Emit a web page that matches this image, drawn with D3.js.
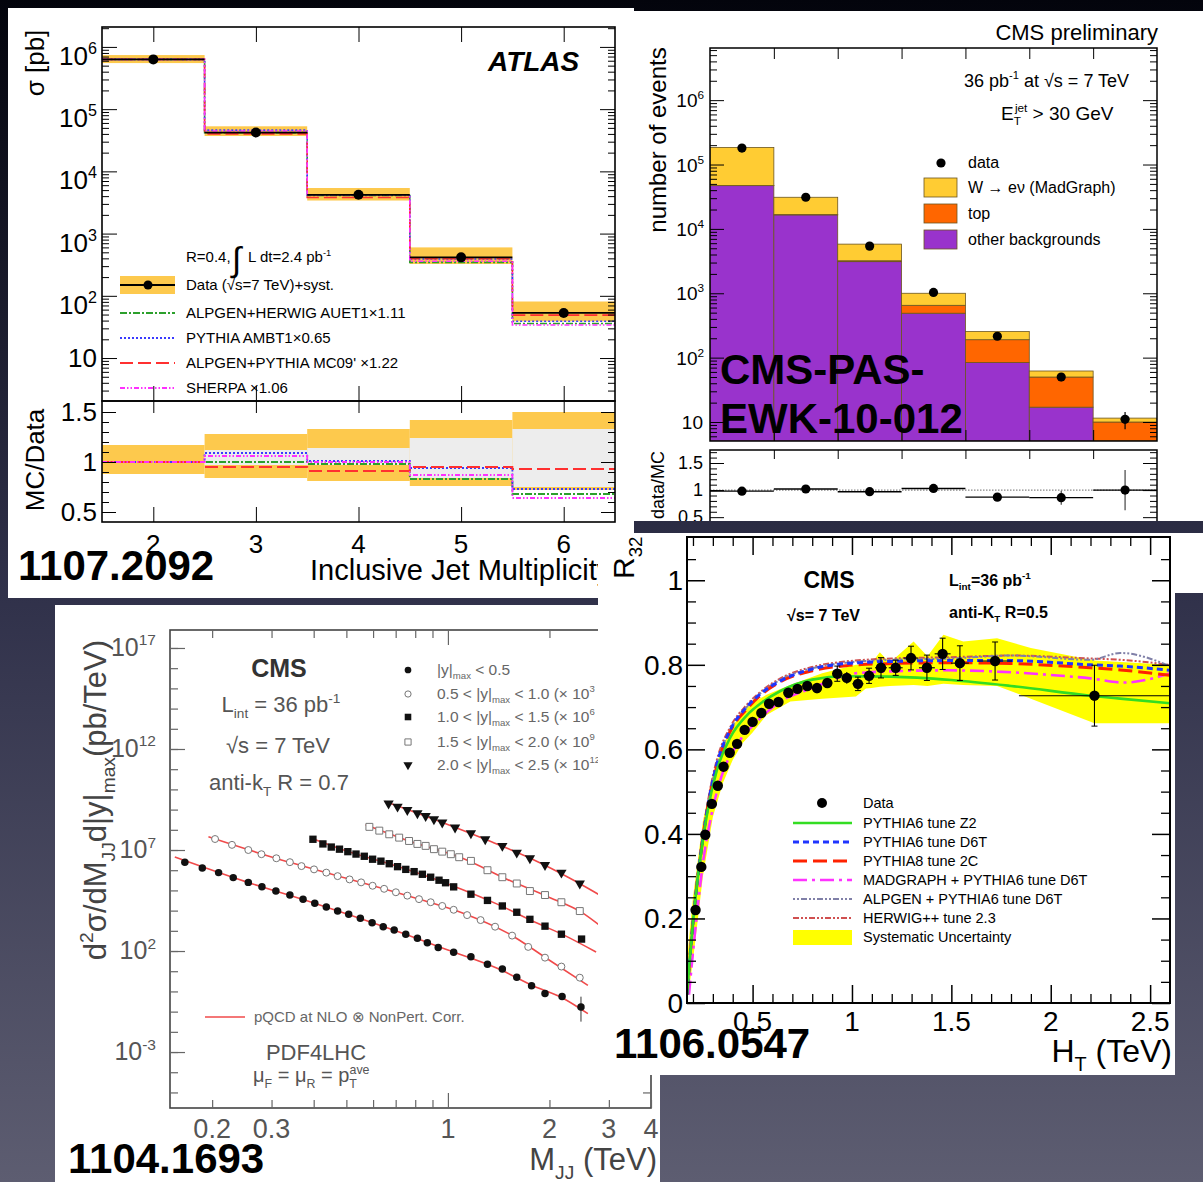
<!DOCTYPE html>
<html lang="en">
<head>
<meta charset="utf-8">
<title>Jet measurements collage</title>
<script src="https://cdn.jsdelivr.net/npm/d3@7"></script>
<style>
  html, body { margin: 0; padding: 0; background: #202133; }
  svg { display: block; font-family: "Liberation Sans", Arial, Helvetica, sans-serif; }
</style>
</head>
<body>
<script>
// ---------------- data ----------------

// ATLAS, inclusive jet multiplicity (sigma in pb)
const atlasN = [2, 3, 4, 5, 6];
const atlasData = [6.3e5, 4.2e4, 4.2e3, 415, 53];
const atlasSystLo = [5.5e5, 3.7e4, 3.4e3, 325, 39];
const atlasSystHi = [7.4e5, 5.3e4, 5.4e3, 600, 81];
const atlasHerwig = [6.3e5, 4.2e4, 4.1e3, 345, 36];
const atlasPythia = [6.3e5, 4.6e4, 4.2e3, 390, 39];
const atlasMC09 = [6.3e5, 4.0e4, 3.8e3, 395, 49];
const atlasSherpa = [6.3e5, 4.45e4, 4.2e3, 360, 34];
const ratioHerwig = [1.0, 1.0, 0.98, 0.83, 0.68];
const ratioPythia = [1.0, 1.09, 1.01, 0.94, 0.73];
const ratioMC09 = [1.0, 0.95, 0.91, 0.95, 0.93];
const ratioSherpa = [1.0, 1.06, 1.0, 0.87, 0.64];
const ratioYellowLo = [0.88, 0.84, 0.81, 0.76, 0.72];
const ratioYellowHi = [1.17, 1.28, 1.33, 1.42, 1.50];
const ratioGreyLo = [1.0, 0.97, 0.97, 0.84, 0.75];
const ratioGreyHi = [1.0, 1.12, 1.14, 1.24, 1.33];

// CMS W -> e nu + jets, number of events per jet bin
const wJets = [0, 1, 2, 3, 4, 5, 6];
const wOther = [4.7e4, 1.65e4, 3.1e3, 490, 84, 17, 4];
const wTop = [200, 200, 100, 160, 106, 33, 6];
const wSignal = [1.37e5, 1.43e4, 2.6e3, 350, 64, 12, 1.5];
const wData = [1.8e5, 3.1e4, 5.4e3, 1030, 215, 50, 11];
const wDataErr = [420, 180, 75, 32, 15, 7, 3.3];
const wRatio = [0.98, 1.02, 0.97, 1.03, 0.87, 0.86, 1.0];
const wRatioErr = [0.01, 0.01, 0.015, 0.03, 0.06, 0.13, 0.37];

// CMS dijet mass spectra [M_JJ (TeV), d2sigma (pb/TeV)]
const dijet1 = [[0.166,2.5e6],[0.187,1.3e6],[0.209,7.6e5],[0.231,4.3e5],[0.256,2.5e5],[0.281,1.5e5],[0.309,9.3e4],[0.340,5.9e4],[0.372,3.7e4],[0.403,2.3e4],[0.436,1.5e4],[0.471,9.5e3],[0.508,6.6e3],[0.550,4.2e3],[0.596,2.5e3],[0.643,1.6e3],[0.693,1.1e3],[0.750,680],[0.812,430],[0.869,260],[0.936,150],[1.04,87],[1.17,52],[1.31,22],[1.45,13],[1.60,5.0],[1.77,1.9],[1.94,0.79],[2.18,0.56],[2.48,0.17]];
const dijet2 = [[0.204,3.5e7],[0.229,1.8e7],[0.256,1.0e7],[0.280,6.2e6],[0.310,3.9e6],[0.340,2.5e6],[0.368,1.6e6],[0.401,1.1e6],[0.436,7.6e5],[0.471,5.1e5],[0.511,3.5e5],[0.553,2.5e5],[0.598,1.7e5],[0.647,1.2e5],[0.701,8.1e4],[0.758,5.5e4],[0.821,3.7e4],[0.889,2.6e4],[0.962,1.7e4],[1.04,1.1e4],[1.14,6.0e3],[1.25,3.4e3],[1.38,1.6e3],[1.55,580],[1.73,160],[1.94,47],[2.17,17],[2.46,4.8]];
const dijet3 = [[0.398,3.4e7],[0.426,2.0e7],[0.451,1.4e7],[0.477,1.1e7],[0.505,8.3e6],[0.534,6.3e6],[0.565,4.9e6],[0.598,3.5e6],[0.633,2.8e6],[0.670,2.1e6],[0.709,1.5e6],[0.750,1.1e6],[0.794,8.5e5],[0.840,6.3e5],[0.889,4.5e5],[0.941,3.2e5],[0.984,2.4e5],[1.04,1.5e5],[1.17,6.5e4],[1.31,3.2e4],[1.45,1.7e4],[1.60,8.3e3],[1.75,3.7e3],[1.94,1.7e3],[2.17,680],[2.49,390]];
const dijet4 = [[0.585,1.4e8],[0.626,9.1e7],[0.670,6.0e7],[0.717,4.1e7],[0.767,2.8e7],[0.812,2.0e7],[0.859,1.6e7],[0.909,1.1e7],[0.962,8.3e6],[1.02,6.2e6],[1.08,4.4e6],[1.17,2.9e6],[1.31,1.0e6],[1.45,4.5e5],[1.60,2.2e5],[1.75,9.3e4],[1.94,5.9e4],[2.17,2.6e4],[2.46,9.5e3]];
const dijet5 = [[0.667,2.0e9],[0.709,1.4e9],[0.758,9.5e8],[0.812,6.6e8],[0.859,4.8e8],[0.909,3.3e8],[0.962,2.3e8],[1.05,1.3e8],[1.17,6.8e7],[1.29,3.4e7],[1.45,1.6e7],[1.60,7.4e6],[1.75,3.9e6],[1.94,1.8e6],[2.17,7.6e5],[2.46,2.2e5]];
const nlo1 = [[0.155,4.5e6],[0.25,2.8e5],[0.4,2.4e4],[0.7,1.0e3],[1.0,112],[1.4,14],[1.8,1.8],[2.2,0.45],[2.6,0.079]];
const nlo2 = [[0.195,4.5e7],[0.3,4.5e6],[0.5,4.0e5],[0.8,4.2e4],[1.1,7.9e3],[1.5,790],[2.0,35],[2.6,2.0]];
const nlo3 = [[0.39,4.0e7],[0.5,8.9e6],[0.7,1.66e6],[1.0,2.1e5],[1.4,2.1e4],[1.8,2.8e3],[2.2,630],[2.75,89]];
const nlo4 = [[0.57,1.8e8],[0.8,2.2e7],[1.1,4.0e6],[1.5,3.5e5],[2.0,4.5e4],[2.5,7.9e3],[2.8,2.0e3]];
const nlo5 = [[0.65,2.5e9],[0.9,3.5e8],[1.3,3.2e7],[1.8,3.2e6],[2.3,4.0e5],[2.8,6.3e4]];
const dijetLastErr = [0.032, 0.55];

// CMS R32 versus H_T
const r32HT = [0.213,0.242,0.262,0.295,0.325,0.354,0.385,0.422,0.46,0.5,0.544,0.583,0.63,0.68,0.726,0.775,0.824,0.876,0.926,0.974,1.03,1.086,1.146,1.22,1.297,1.377,1.456,1.543,1.72,2.22];
const r32Val = [0.22,0.322,0.398,0.471,0.514,0.559,0.592,0.613,0.646,0.665,0.686,0.708,0.712,0.734,0.743,0.75,0.745,0.757,0.779,0.769,0.755,0.774,0.793,0.793,0.816,0.793,0.826,0.804,0.809,0.727];
const r32ErrY = [0.005,0.005,0.005,0.005,0.005,0.005,0.005,0.006,0.006,0.007,0.008,0.008,0.009,0.01,0.01,0.011,0.012,0.012,0.018,0.014,0.016,0.018,0.024,0.018,0.028,0.03,0.037,0.041,0.045,0.072];
const r32ErrX = [0.012,0.012,0.012,0.014,0.014,0.015,0.016,0.018,0.019,0.02,0.021,0.022,0.023,0.024,0.024,0.024,0.025,0.025,0.025,0.025,0.028,0.028,0.03,0.035,0.037,0.04,0.04,0.045,0.085,0.38];
const sysHT = [0.17,0.20,0.25,0.30,0.35,0.40,0.45,0.50,0.57,0.69,0.85,1.02,1.07,1.10,1.14,1.19,1.31,1.38,1.46,1.56,1.73,1.90,2.22,2.60];
const sysLo = [0.0,0.10,0.30,0.44,0.52,0.575,0.615,0.64,0.681,0.713,0.72,0.725,0.744,0.745,0.748,0.75,0.752,0.75,0.755,0.752,0.75,0.72,0.662,0.662];
const sysHi = [0.10,0.25,0.43,0.54,0.61,0.655,0.69,0.71,0.729,0.752,0.78,0.80,0.80,0.805,0.83,0.805,0.855,0.82,0.871,0.855,0.863,0.84,0.81,0.80];
const mcHT = [0.17,0.18,0.20,0.22,0.25,0.28,0.32,0.39,0.47,0.55,0.64,0.80,0.97,1.20,1.50,1.80,2.20,2.35,2.60];
const mcHerwig = [0.03,0.09,0.20,0.29,0.40,0.49,0.575,0.655,0.705,0.74,0.768,0.795,0.808,0.815,0.818,0.822,0.815,0.812,0.80];
const mcAlpgen = [0.02,0.08,0.19,0.28,0.39,0.48,0.565,0.648,0.70,0.737,0.765,0.792,0.805,0.812,0.815,0.822,0.812,0.828,0.797];
const mcD6T = [0.02,0.08,0.19,0.28,0.39,0.48,0.565,0.648,0.70,0.735,0.762,0.79,0.803,0.808,0.81,0.81,0.80,0.797,0.787];
const mcP8 = [0.02,0.08,0.19,0.28,0.39,0.48,0.56,0.645,0.695,0.732,0.76,0.786,0.798,0.803,0.805,0.803,0.793,0.788,0.775];
const mcZ2 = [0.02,0.08,0.19,0.28,0.385,0.47,0.55,0.63,0.68,0.712,0.738,0.765,0.773,0.772,0.764,0.75,0.727,0.72,0.709];
const mgHT = [0.18,0.20,0.22,0.25,0.30,0.35,0.42,0.52,0.64,0.80,1.02,1.22,1.47,1.73,2.00,2.20,2.37,2.60];
const mcMadgraph = [0.02,0.12,0.21,0.33,0.46,0.545,0.61,0.665,0.713,0.745,0.78,0.785,0.787,0.784,0.776,0.768,0.758,0.78];

// ---------------- page ----------------
const W = 1203, H = 1182;
const svg = d3.select("body").append("svg").attr("width", W).attr("height", H);
const defs = svg.append("defs");
const grad = defs.append("linearGradient").attr("id", "bg").attr("x1", 0).attr("y1", 0).attr("x2", 0).attr("y2", 1);
grad.append("stop").attr("offset", "0%").attr("stop-color", "#03040c");
grad.append("stop").attr("offset", "50%").attr("stop-color", "#30314a");
grad.append("stop").attr("offset", "100%").attr("stop-color", "#5d5d71");
svg.append("rect").attr("width", W).attr("height", H).attr("fill", "url(#bg)");

function addClip(id, x0, y0, x1, y1) {
  defs.append("clipPath").attr("id", id).append("rect")
    .attr("x", x0).attr("y", y0).attr("width", x1 - x0).attr("height", y1 - y0);
}
function panel(id, x0, y0, x1, y1) {
  addClip(id, x0, y0, x1, y1);
  const g = svg.append("g").attr("clip-path", `url(#${id})`);
  g.append("rect").attr("x", x0).attr("y", y0).attr("width", x1 - x0).attr("height", y1 - y0).attr("fill", "#fff");
  return g;
}
// inward pointing ticks drawn with d3 axes
function ticks(g, scale, side, pos, values, size, color, width) {
  const axis = side === "bottom" ? d3.axisTop(scale) : side === "top" ? d3.axisBottom(scale)
             : side === "left" ? d3.axisRight(scale) : d3.axisLeft(scale);
  axis.tickValues(values).tickSize(size).tickSizeOuter(0).tickFormat("");
  const horiz = side === "bottom" || side === "top";
  const a = g.append("g").attr("transform", horiz ? `translate(0,${pos})` : `translate(${pos},0)`).call(axis);
  a.select(".domain").remove();
  a.selectAll("text").remove();
  a.selectAll("line").attr("stroke", color || "#000").attr("stroke-width", width || 1);
}
function decades(lo, hi) {
  const out = [];
  for (let e = Math.ceil(Math.log10(lo) - 1e-9); Math.pow(10, e) <= hi * 1.0001; e++) out.push(Math.pow(10, e));
  return out;
}
function minors(lo, hi) {
  const out = [];
  for (let e = Math.floor(Math.log10(lo)); Math.pow(10, e) <= hi; e++)
    for (let m = 2; m < 10; m++) { const v = m * Math.pow(10, e); if (v >= lo && v <= hi) out.push(v); }
  return out;
}
// text with sub / superscripts
function rich(g, x, y, parts, fs, opts = {}) {
  const t = g.append("text").attr("x", x).attr("y", y).attr("font-size", fs)
    .attr("text-anchor", opts.anchor || "start").attr("fill", opts.fill || "#000");
  if (opts.weight) t.attr("font-weight", opts.weight);
  if (opts.italic) t.attr("font-style", "italic");
  if (opts.transform) t.attr("transform", opts.transform);
  let shift = 0;
  parts.forEach(p => {
    const [s, kind, dx] = Array.isArray(p) ? p : [p, "n", 0];
    const target = kind === "sup" ? -fs * 0.42 : kind === "sub" ? fs * 0.28 : 0;
    const sp = t.append("tspan").attr("dy", target - shift).text(s);
    if (kind === "sup" || kind === "sub") sp.attr("font-size", fs * 0.62);
    if (dx) sp.attr("dx", dx);
    shift = target;
  });
  return t;
}

// ================= panel 1 : ATLAS =================
const p1 = panel("clip1", 8, 8, 634, 598);
const x1 = d3.scaleLinear().domain([1.5, 6.5]).range([102, 615]);
const y1 = d3.scaleLog().domain([2.04, 2.09e6]).range([401, 27]);
const r1 = d3.scaleLinear().domain([0.40, 1.61]).range([522, 401]);
const YEL1 = "#fdc94d";
const atlasMC = [
  { name: "ALPGEN+HERWIG AUET1\u00d71.11", main: atlasHerwig, ratio: ratioHerwig, color: "#2ca02c", dash: "7,2,2,2" },
  { name: "PYTHIA AMBT1\u00d70.65", main: atlasPythia, ratio: ratioPythia, color: "#3a3aff", dash: "2,2" },
  { name: "ALPGEN+PYTHIA MC09' \u00d71.22", main: atlasMC09, ratio: ratioMC09, color: "#ff3030", dash: "13,5" },
  { name: "SHERPA \u00d71.06", main: atlasSherpa, ratio: ratioSherpa, color: "#ff30ff", dash: "5,2,1.5,2,1.5,2" }
];
const stepPts = vals => atlasN.map((n, i) => [n - 0.5, vals[i]]).concat([[6.5, vals[vals.length - 1]]]);
const step = (sy) => d3.line().x(d => x1(d[0])).y(d => sy(d[1])).curve(d3.curveStepAfter);

p1.selectAll("rect.syst").data(atlasN).join("rect").attr("class", "syst")
  .attr("x", n => x1(n - 0.5)).attr("width", x1(1) - x1(0))
  .attr("y", (n, i) => y1(atlasSystHi[i])).attr("height", (n, i) => y1(atlasSystLo[i]) - y1(atlasSystHi[i]))
  .attr("fill", YEL1);
atlasMC.forEach(m => p1.append("path").attr("d", step(y1)(stepPts(m.main))).attr("fill", "none")
  .attr("stroke", m.color).attr("stroke-width", 1.6).attr("stroke-dasharray", m.dash));
p1.selectAll("line.dat").data(atlasN).join("line").attr("class", "dat")
  .attr("x1", n => x1(n - 0.5)).attr("x2", n => x1(n + 0.5))
  .attr("y1", (n, i) => y1(atlasData[i])).attr("y2", (n, i) => y1(atlasData[i]))
  .attr("stroke", "#000").attr("stroke-width", 1.8);
p1.selectAll("circle.dat").data(atlasN).join("circle").attr("class", "dat")
  .attr("cx", n => x1(n)).attr("cy", (n, i) => y1(atlasData[i])).attr("r", 5).attr("fill", "#000");

// ratio
p1.selectAll("rect.ry").data(atlasN).join("rect").attr("class", "ry")
  .attr("x", n => x1(n - 0.5)).attr("width", x1(1) - x1(0))
  .attr("y", (n, i) => r1(ratioYellowHi[i])).attr("height", (n, i) => r1(ratioYellowLo[i]) - r1(ratioYellowHi[i]))
  .attr("fill", YEL1);
p1.selectAll("rect.rg").data(atlasN).join("rect").attr("class", "rg")
  .attr("x", n => x1(n - 0.5)).attr("width", x1(1) - x1(0))
  .attr("y", (n, i) => r1(ratioGreyHi[i])).attr("height", (n, i) => r1(ratioGreyLo[i]) - r1(ratioGreyHi[i]))
  .attr("fill", "#ededed");
atlasMC.forEach(m => p1.append("path").attr("d", step(r1)(stepPts(m.ratio))).attr("fill", "none")
  .attr("stroke", m.color).attr("stroke-width", 1.8).attr("stroke-dasharray", m.dash));

// frames and ticks
p1.append("rect").attr("x", 102).attr("y", 27).attr("width", 513).attr("height", 374).attr("fill", "none").attr("stroke", "#000").attr("stroke-width", 1.6);
p1.append("rect").attr("x", 102).attr("y", 401).attr("width", 513).attr("height", 121).attr("fill", "none").attr("stroke", "#000").attr("stroke-width", 1.6);
ticks(p1, x1, "top", 27, atlasN, 15);
ticks(p1, x1, "bottom", 401, atlasN, 15);
ticks(p1, x1, "top", 401, atlasN, 12);
ticks(p1, x1, "bottom", 522, atlasN, 15);
["left", "right"].forEach(s => {
  const pos = s === "left" ? 102 : 615;
  ticks(p1, y1, s, pos, decades(2.04, 2.09e6), 15);
  ticks(p1, y1, s, pos, minors(2.04, 2.09e6), 7);
  ticks(p1, r1, s, pos, [0.5, 1, 1.5], 14);
  ticks(p1, r1, s, pos, d3.range(0.6, 1.45, 0.1), 7);
});
// labels
[2, 3, 4, 5, 6].forEach(e => rich(p1, 97, y1(Math.pow(10, e)) + 18, ["10", [String(e), "sup"]], 26, { anchor: "end" }));
p1.append("text").attr("x", 97).attr("y", y1(10) + 9).attr("text-anchor", "end").attr("font-size", 26).text("10");
[[1.5, "1.5"], [1, "1"], [0.5, "0.5"]].forEach(([v, s]) =>
  p1.append("text").attr("x", 97).attr("y", r1(v) + 9).attr("text-anchor", "end").attr("font-size", 26).text(s));
atlasN.forEach(n => p1.append("text").attr("x", x1(n)).attr("y", 553).attr("text-anchor", "middle").attr("font-size", 26).text(n));
p1.append("text").attr("x", 310).attr("y", 580).attr("font-size", 29).text("Inclusive Jet Multiplicity");
p1.append("text").attr("transform", "translate(44,63) rotate(-90)").attr("text-anchor", "middle").attr("font-size", 26).text("\u03c3 [pb]");
p1.append("text").attr("transform", "translate(44,460) rotate(-90)").attr("text-anchor", "middle").attr("font-size", 26).text("MC/Data");
p1.append("text").attr("x", 488).attr("y", 71).attr("font-size", 28).attr("font-weight", "bold").attr("font-style", "italic").text("ATLAS");
// legend
const lg1 = p1.append("g").attr("font-size", 15);
lg1.append("text").attr("x", 186).attr("y", 262).text("R=0.4,");
lg1.append("text").attr("x", 232).attr("y", 271).attr("font-size", 34).text("\u222b");
rich(lg1, 248, 262, ["L dt=2.4 pb", ["-1", "sup"]], 15);
lg1.append("rect").attr("x", 120).attr("y", 276).attr("width", 55).attr("height", 18).attr("fill", YEL1);
lg1.append("line").attr("x1", 120).attr("x2", 175).attr("y1", 285).attr("y2", 285).attr("stroke", "#000").attr("stroke-width", 1.8);
lg1.append("circle").attr("cx", 148).attr("cy", 285).attr("r", 4.5);
lg1.append("text").attr("x", 186).attr("y", 290).text("Data (\u221as=7 TeV)+syst.");
const legRows1 = [313, 338, 363, 388];
atlasMC.forEach((m, i) => {
  lg1.append("line").attr("x1", 120).attr("x2", 175).attr("y1", legRows1[i]).attr("y2", legRows1[i])
    .attr("stroke", m.color).attr("stroke-width", 1.8).attr("stroke-dasharray", m.dash);
  lg1.append("text").attr("x", 186).attr("y", legRows1[i] + 5).text(m.name);
});

// ================= panel 2 : CMS W + jets =================
const p2 = panel("clip2", 634, 11, 1203, 521);
const x2 = d3.scaleLinear().domain([0, 7]).range([710, 1157]);
const y2 = d3.scaleLog().domain([5.07, 6.46e6]).range([441, 48]).clamp(true);
const r2 = d3.scaleLinear().domain([0.3, 1.74]).range([528, 450]);
const wRows = wJets.map((j, i) => ({ jet: j, other: wOther[i], top: wTop[i], signal: wSignal[i] }));
const wStack = d3.stack().keys(["other", "top", "signal"])(wRows);
const wColors = { other: "#9933cc", top: "#ff6600", signal: "#ffcc33" };
addClip("frame2", 710, 48, 1157, 441);
const plot2 = p2.append("g").attr("clip-path", "url(#frame2)");
wStack.forEach(layer => {
  plot2.selectAll(null).data(layer).join("rect")
    .attr("x", d => x2(d.data.jet)).attr("width", x2(1) - x2(0))
    .attr("y", d => y2(d[1])).attr("height", d => y2(Math.max(d[0], 1)) - y2(d[1]))
    .attr("fill", wColors[layer.key]).attr("stroke", "#6b5520").attr("stroke-width", 0.8);
});
plot2.selectAll("line.err").data(wJets).join("line").attr("class", "err")
  .attr("x1", j => x2(j + 0.5)).attr("x2", j => x2(j + 0.5))
  .attr("y1", (j, i) => y2(wData[i] + wDataErr[i])).attr("y2", (j, i) => y2(wData[i] - wDataErr[i]))
  .attr("stroke", "#000").attr("stroke-width", 1.2);
plot2.selectAll("circle").data(wJets).join("circle")
  .attr("cx", j => x2(j + 0.5)).attr("cy", (j, i) => y2(wData[i])).attr("r", 4.6).attr("fill", "#000");
p2.append("rect").attr("x", 710).attr("y", 48).attr("width", 447).attr("height", 393).attr("fill", "none").attr("stroke", "#000").attr("stroke-width", 1.5);
const edges2 = [1, 2, 3, 4, 5, 6];
ticks(p2, x2, "top", 48, edges2, 11);
ticks(p2, x2, "bottom", 441, edges2, 11);
["left", "right"].forEach(s => {
  const pos = s === "left" ? 710 : 1157;
  ticks(p2, y2, s, pos, decades(5.07, 6.46e6), 14);
  ticks(p2, y2, s, pos, minors(5.07, 6.46e6), 7);
});
// ratio
p2.append("line").attr("x1", 710).attr("x2", 1157).attr("y1", r2(1)).attr("y2", r2(1))
  .attr("stroke", "#888").attr("stroke-width", 1.2).attr("stroke-dasharray", "1.5,1.5");
p2.selectAll("line.rbar").data(wJets).join("line").attr("class", "rbar")
  .attr("x1", j => x2(j)).attr("x2", j => x2(j + 1))
  .attr("y1", (j, i) => r2(wRatio[i])).attr("y2", (j, i) => r2(wRatio[i]))
  .attr("stroke", "#000").attr("stroke-width", 1.4);
p2.selectAll("line.rerr").data(wJets).join("line").attr("class", "rerr")
  .attr("x1", j => x2(j + 0.5)).attr("x2", j => x2(j + 0.5))
  .attr("y1", (j, i) => r2(wRatio[i] + wRatioErr[i])).attr("y2", (j, i) => r2(wRatio[i] - wRatioErr[i]))
  .attr("stroke", "#333").attr("stroke-width", 1.1);
p2.selectAll("circle.r").data(wJets).join("circle").attr("class", "r")
  .attr("cx", j => x2(j + 0.5)).attr("cy", (j, i) => r2(wRatio[i])).attr("r", 4.6).attr("fill", "#000");
p2.append("rect").attr("x", 710).attr("y", 450).attr("width", 447).attr("height", 78).attr("fill", "none").attr("stroke", "#000").attr("stroke-width", 1.5);
ticks(p2, x2, "top", 450, edges2, 9);
["left", "right"].forEach(s => {
  const pos = s === "left" ? 710 : 1157;
  ticks(p2, r2, s, pos, [0.5, 1, 1.5], 14);
  ticks(p2, r2, s, pos, d3.range(0.6, 1.75, 0.1), 7);
});
[3, 4, 5, 6].forEach(e => rich(p2, 704, y2(Math.pow(10, e)) + 7, ["10", [String(e), "sup"]], 19, { anchor: "end" }));
rich(p2, 704, y2(100) + 7, ["10", ["2", "sup"]], 19, { anchor: "end" });
p2.append("text").attr("x", 703).attr("y", y2(10) + 7).attr("text-anchor", "end").attr("font-size", 19).text("10");
[[1.5, "1.5"], [1, "1"], [0.5, "0.5"]].forEach(([v, s]) =>
  p2.append("text").attr("x", 703).attr("y", r2(v) + 6).attr("text-anchor", "end").attr("font-size", 18).text(s));
p2.append("text").attr("transform", "translate(666,140) rotate(-90)").attr("text-anchor", "middle").attr("font-size", 24).text("number of events");
p2.append("text").attr("transform", "translate(664,451) rotate(-90)").attr("text-anchor", "end").attr("font-size", 18).text("data/MC");
p2.append("text").attr("x", 1158).attr("y", 40).attr("text-anchor", "end").attr("font-size", 22).text("CMS preliminary");
rich(p2, 964, 87, ["36 pb", ["-1", "sup"], "  at \u221as = 7 TeV"], 18);
rich(p2, 1001, 120, ["E", ["T", "sub"], ["jet", "sup", -6], " > 30 GeV"], 19);
const lg2 = p2.append("g").attr("font-size", 16);
lg2.append("circle").attr("cx", 941).attr("cy", 163).attr("r", 4.6);
lg2.append("text").attr("x", 968).attr("y", 168).text("data");
[["signal", "W \u2192 e\u03bd (MadGraph)", 178], ["top", "top", 204], ["other", "other backgrounds", 230]].forEach(([k, s, y]) => {
  lg2.append("rect").attr("x", 924).attr("y", y).attr("width", 33).attr("height", 19)
    .attr("fill", wColors[k]).attr("stroke", "#6b5520").attr("stroke-width", 0.8);
  lg2.append("text").attr("x", 968).attr("y", y + 15).text(s);
});

// ================= panel 3 : CMS dijet mass =================
const p3 = panel("clip3", 55, 605, 660, 1182);
const x3 = d3.scaleLog().domain([0.15, 4.0]).range([170, 651]);
const y3 = d3.scaleLog().domain([Math.pow(10, -5.77), Math.pow(10, 17.89)]).range([1108, 630]);
const GREY = "#555";
addClip("frame3", 170, 630, 651, 1108);
const plot3 = p3.append("g").attr("clip-path", "url(#frame3)");
const nloLine = d3.line().x(d => x3(d[0])).y(d => y3(d[1])).curve(d3.curveMonotoneX);
[nlo1, nlo2, nlo3, nlo4, nlo5].forEach(s => plot3.append("path").attr("d", nloLine(s))
  .attr("fill", "none").attr("stroke", "#f04a4a").attr("stroke-width", 1.6));
const dijetSets = [
  { pts: dijet1, sym: d3.symbolCircle, size: 44, fill: "#111", stroke: "none", rot: 0 },
  { pts: dijet2, sym: d3.symbolCircle, size: 38, fill: "#fff", stroke: "#777", rot: 0 },
  { pts: dijet3, sym: d3.symbolSquare, size: 54, fill: "#111", stroke: "none", rot: 0 },
  { pts: dijet4, sym: d3.symbolSquare, size: 48, fill: "#fff", stroke: "#777", rot: 0 },
  { pts: dijet5, sym: d3.symbolTriangle, size: 46, fill: "#111", stroke: "none", rot: 180 }
];
const last1 = dijet1[dijet1.length - 1];
plot3.append("line").attr("x1", x3(last1[0])).attr("x2", x3(last1[0]))
  .attr("y1", y3(dijetLastErr[1])).attr("y2", y3(dijetLastErr[0])).attr("stroke", "#333");
dijetSets.forEach(s => {
  plot3.selectAll(null).data(s.pts).join("path")
    .attr("d", d3.symbol().type(s.sym).size(s.size))
    .attr("transform", d => `translate(${x3(d[0])},${y3(d[1])}) rotate(${s.rot})`)
    .attr("fill", s.fill).attr("stroke", s.stroke).attr("stroke-width", 1);
});
p3.append("rect").attr("x", 170).attr("y", 630).attr("width", 481).attr("height", 478).attr("fill", "none").attr("stroke", "#444").attr("stroke-width", 1.6);
const y3dec = decades(Math.pow(10, -5.77), Math.pow(10, 17.89));
ticks(p3, y3, "left", 170, y3dec, 8, "#666", 1.2);
ticks(p3, y3, "left", 170, [1e17, 1e12, 1e7, 1e2, 1e-3], 15, "#666", 1.2);
ticks(p3, y3, "right", 651, y3dec, 8, "#666", 1.2);
const x3min = [0.2, 0.3, 0.4, 0.5, 0.6, 0.7, 0.8, 0.9, 2, 3, 4];
ticks(p3, x3, "bottom", 1108, x3min, 8, "#666", 1.2);
ticks(p3, x3, "bottom", 1108, [1], 15, "#666", 1.2);
ticks(p3, x3, "top", 630, x3min, 8, "#666", 1.2);
ticks(p3, x3, "top", 630, [1], 15, "#666", 1.2);
[[17, "17"], [12, "12"], [7, "7"], [2, "2"], [-3, "-3"]].forEach(([e, s]) =>
  rich(p3, 156, y3(Math.pow(10, e)) + 8, ["10", [s, "sup"]], 25, { anchor: "end", fill: GREY }));
[[0.2, "0.2"], [0.3, "0.3"], [1, "1"], [2, "2"], [3, "3"], [4, "4"]].forEach(([v, s]) =>
  p3.append("text").attr("x", x3(v)).attr("y", 1138).attr("text-anchor", "middle").attr("font-size", 27).attr("fill", GREY).text(s));
rich(p3, 657, 1170, ["M", ["JJ", "sub"], " (TeV)"], 31, { anchor: "end", fill: "#444" });
rich(p3, 0, 0, ["d", ["2", "sup"], "\u03c3/dM", ["JJ", "sub"], "d|y|", ["max", "sub"], "(pb/TeV)"], 31,
  { anchor: "middle", fill: "#444", transform: "translate(106,800) rotate(-90)" });
p3.append("text").attr("x", 279).attr("y", 677).attr("text-anchor", "middle").attr("font-size", 25).attr("font-weight", "bold").attr("fill", "#333").text("CMS");
rich(p3, 281, 712, ["L", ["int", "sub"], " = 36 pb", ["-1", "sup"]], 22, { anchor: "middle", fill: GREY });
p3.append("text").attr("x", 278).attr("y", 753).attr("text-anchor", "middle").attr("font-size", 22).attr("fill", GREY).text("\u221as = 7 TeV");
rich(p3, 279, 790, ["anti-k", ["T", "sub"], " R = 0.7"], 22, { anchor: "middle", fill: GREY });
const leg3 = [
  ["|y|", "max", " < 0.5", ""],
  ["0.5 < |y|", "max", " < 1.0 (\u00d7 10", "3"],
  ["1.0 < |y|", "max", " < 1.5 (\u00d7 10", "6"],
  ["1.5 < |y|", "max", " < 2.0 (\u00d7 10", "9"],
  ["2.0 < |y|", "max", " < 2.5 (\u00d7 10", "12"]
];
const legRows3 = [670, 694, 717, 742, 765];
dijetSets.forEach((s, i) => {
  p3.append("path").attr("d", d3.symbol().type(s.sym).size(s.size * 0.8))
    .attr("transform", `translate(408,${legRows3[i]}) rotate(${s.rot})`)
    .attr("fill", s.fill).attr("stroke", s.stroke);
  const parts = [leg3[i][0], [leg3[i][1], "sub"], leg3[i][2]];
  if (leg3[i][3]) parts.push([leg3[i][3], "sup"]);
  rich(p3, 437, legRows3[i] + 5, parts, 15.5, { fill: "#666" });
});
p3.append("line").attr("x1", 205).attr("x2", 245).attr("y1", 1017).attr("y2", 1017).attr("stroke", "#f04a4a").attr("stroke-width", 1.6);
p3.append("text").attr("x", 254).attr("y", 1022).attr("font-size", 15).attr("fill", "#666").text("pQCD at NLO \u2297 NonPert. Corr.");
p3.append("text").attr("x", 316).attr("y", 1060).attr("text-anchor", "middle").attr("font-size", 22).attr("fill", GREY).text("PDF4LHC");
rich(p3, 253, 1082, ["\u03bc", ["F", "sub"], " = \u03bc", ["R", "sub"], " = p", ["T", "sub"], ["ave", "sup", -6]], 20, { fill: GREY });

// ================= panel 4 : CMS R32 =================
const p4 = panel("clip4", 598, 533, 1175, 1075);
svg.append("rect").attr("x", 1175).attr("y", 533).attr("width", 28).attr("height", 60).attr("fill", "#fff");
const x4 = d3.scaleLinear().domain([0.17, 2.6]).range([687, 1170]);
const y4 = d3.scaleLinear().domain([0, 1.1]).range([1003, 538]);
addClip("frame4", 687, 538, 1170, 1003);
const plot4 = p4.append("g").attr("clip-path", "url(#frame4)");
const sysArea = d3.area().x((d, i) => x4(sysHT[i])).y0((d, i) => y4(sysLo[i])).y1((d, i) => y4(sysHi[i]));
plot4.append("path").attr("d", sysArea(sysHT)).attr("fill", "#ffff00");
const r32Curves = [
  { name: "PYTHIA6 tune Z2", xs: mcHT, ys: mcZ2, color: "#33dd22", dash: null, w: 2.6 },
  { name: "PYTHIA6 tune D6T", xs: mcHT, ys: mcD6T, color: "#1f35ff", dash: "6,4", w: 3 },
  { name: "PYTHIA8 tune 2C", xs: mcHT, ys: mcP8, color: "#ff2200", dash: "14,6", w: 3 },
  { name: "MADGRAPH + PYTHIA6 tune D6T", xs: mgHT, ys: mcMadgraph, color: "#ff33ff", dash: "14,5,3,5", w: 2.6 },
  { name: "ALPGEN + PYTHIA6 tune D6T", xs: mcHT, ys: mcAlpgen, color: "#8080a8", dash: "2,2,2,2,6,2", w: 2 },
  { name: "HERWIG++ tune 2.3", xs: mcHT, ys: mcHerwig, color: "#d05050", dash: "6,2,2,2,2,2", w: 2 }
];
const curveLine = c => d3.line().x((d, i) => x4(c.xs[i])).y((d, i) => y4(c.ys[i])).curve(d3.curveMonotoneX)(c.xs);
r32Curves.slice().reverse().forEach(c => plot4.append("path").attr("d", curveLine(c)).attr("fill", "none")
  .attr("stroke", c.color).attr("stroke-width", c.w).attr("stroke-dasharray", c.dash));
const r32Idx = d3.range(r32HT.length);
plot4.selectAll("line.ex").data(r32Idx).join("line").attr("class", "ex")
  .attr("x1", i => x4(r32HT[i] - r32ErrX[i])).attr("x2", i => x4(r32HT[i] + r32ErrX[i]))
  .attr("y1", i => y4(r32Val[i])).attr("y2", i => y4(r32Val[i])).attr("stroke", "#000").attr("stroke-width", 1.1);
plot4.selectAll("line.ey").data(r32Idx).join("line").attr("class", "ey")
  .attr("x1", i => x4(r32HT[i])).attr("x2", i => x4(r32HT[i]))
  .attr("y1", i => y4(r32Val[i] + r32ErrY[i])).attr("y2", i => y4(r32Val[i] - r32ErrY[i])).attr("stroke", "#000").attr("stroke-width", 1.1);
const capped = r32Idx.filter(i => r32ErrY[i] >= 0.015);
["+", "-"].forEach(sg => plot4.selectAll(null).data(capped).join("line")
  .attr("x1", i => x4(r32HT[i]) - 3).attr("x2", i => x4(r32HT[i]) + 3)
  .attr("y1", i => y4(r32Val[i] + (sg === "+" ? 1 : -1) * r32ErrY[i])).attr("y2", i => y4(r32Val[i] + (sg === "+" ? 1 : -1) * r32ErrY[i]))
  .attr("stroke", "#000"));
plot4.selectAll("circle").data(r32Idx).join("circle")
  .attr("cx", i => x4(r32HT[i])).attr("cy", i => y4(r32Val[i])).attr("r", 5.2).attr("fill", "#000");
p4.append("rect").attr("x", 687).attr("y", 537).attr("width", 483).attr("height", 466).attr("fill", "none").attr("stroke", "#000").attr("stroke-width", 2);
const x4maj = [0.5, 1, 1.5, 2, 2.5];
const x4min = d3.range(0.2, 2.6, 0.1).map(v => +v.toFixed(2)).filter(v => !x4maj.includes(v));
ticks(p4, x4, "bottom", 1003, x4maj, 18, "#000", 1.5);
ticks(p4, x4, "bottom", 1003, x4min, 9, "#000", 1.3);
ticks(p4, x4, "top", 537, x4maj, 18, "#000", 1.5);
ticks(p4, x4, "top", 537, x4min, 9, "#000", 1.3);
const y4maj = [0, 0.2, 0.4, 0.6, 0.8, 1.0];
const y4min = d3.range(0.05, 1.1, 0.05).map(v => +v.toFixed(2)).filter(v => !y4maj.includes(v));
["left", "right"].forEach(s => {
  const pos = s === "left" ? 687 : 1170;
  ticks(p4, y4, s, pos, y4maj, 18, "#000", 1.5);
  ticks(p4, y4, s, pos, y4min, 9, "#000", 1.3);
});
y4maj.forEach(v => p4.append("text").attr("x", 683).attr("y", y4(v) + 10).attr("text-anchor", "end").attr("font-size", 28).text(v === 1 ? "1" : v === 0 ? "0" : v.toFixed(1)));
x4maj.forEach(v => p4.append("text").attr("x", x4(v)).attr("y", 1031).attr("text-anchor", "middle").attr("font-size", 28).text(v));
rich(p4, 1172, 1062, ["H", ["T", "sub"], " (TeV)"], 32, { anchor: "end" });
rich(p4, 0, 0, ["R", ["32", "sub"]], 30, { transform: "translate(634,579) rotate(-90)" });
p4.append("text").attr("x", 829).attr("y", 588).attr("text-anchor", "middle").attr("font-size", 23).attr("font-weight", "bold").text("CMS");
p4.append("text").attr("x", 787).attr("y", 621).attr("font-size", 16).attr("font-weight", "bold").text("\u221as= 7 TeV");
rich(p4, 949, 586, ["L", ["int", "sub"], "=36 pb", ["-1", "sup"]], 16, { weight: "bold" });
rich(p4, 949, 618, ["anti-K", ["T", "sub"], " R=0.5"], 16, { weight: "bold" });
const lg4 = p4.append("g").attr("font-size", 14.5);
lg4.append("circle").attr("cx", 822).attr("cy", 803).attr("r", 5);
lg4.append("text").attr("x", 863).attr("y", 808).text("Data");
const legRows4 = [823, 842, 861, 880, 899, 918];
r32Curves.forEach((c, i) => {
  lg4.append("line").attr("x1", 793).attr("x2", 852).attr("y1", legRows4[i]).attr("y2", legRows4[i])
    .attr("stroke", c.color).attr("stroke-width", c.w).attr("stroke-dasharray", c.dash);
  lg4.append("text").attr("x", 863).attr("y", legRows4[i] + 5).text(c.name);
});
lg4.append("rect").attr("x", 793).attr("y", 930).attr("width", 59).attr("height", 15).attr("fill", "#ffff00");
lg4.append("text").attr("x", 863).attr("y", 942).text("Systematic Uncertainty");

// ================= slide labels =================
const tags = svg.append("g").attr("font-size", 42).attr("font-weight", "bold").attr("fill", "#000");
tags.append("text").attr("x", 18).attr("y", 580).text("1107.2092");
tags.append("text").attr("x", 720).attr("y", 384).text("CMS-PAS-");
tags.append("text").attr("x", 720).attr("y", 433).text("EWK-10-012");
tags.append("text").attr("x", 68).attr("y", 1173).text("1104.1693");
tags.append("text").attr("x", 614).attr("y", 1058).text("1106.0547");
</script>
</body>
</html>
